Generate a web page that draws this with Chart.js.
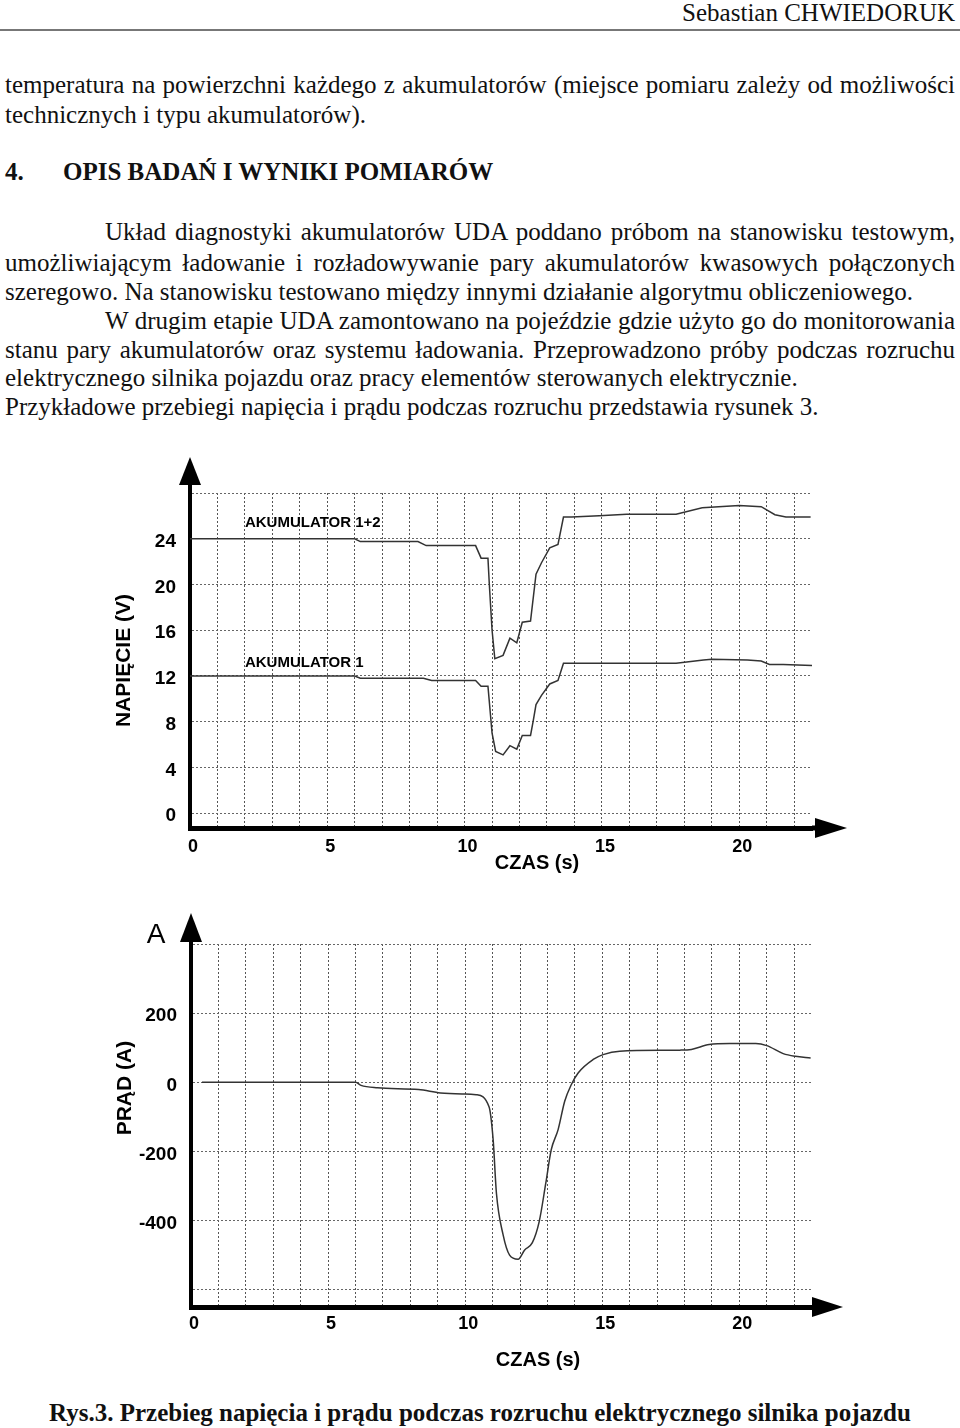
<!DOCTYPE html>
<html>
<head>
<meta charset="utf-8">
<script src="https://cdn.jsdelivr.net/npm/chart.js@4.4.1/dist/chart.umd.min.js"></script>
<style>
  html, body { margin: 0; padding: 0; background: #fff; }
  body { width: 960px; height: 1428px; position: relative; overflow: hidden;
         font-family: "Liberation Serif", "Times New Roman", serif; color: #111; }
  .ln { position: absolute; left: 5px; width: 950px; font-size: 25px; line-height: 29px; height: 29px; white-space: nowrap; }
  .just { text-align: justify; text-align-last: justify; white-space: normal; }
  .ind { left: 105px; width: 850px; }
  .b { font-weight: bold; }
  #rule { position: absolute; left: 0; top: 29px; width: 960px; height: 2px; background: #777; }
  canvas { position: absolute; }
</style>
</head>
<body>
<div class="ln" style="top:-2px;text-align:right;">Sebastian CHWIEDORUK</div>
<div id="rule"></div>
<div class="ln just" style="top:70px;">temperatura na powierzchni każdego z akumulatorów (miejsce pomiaru zależy od możliwości</div>
<div class="ln" style="top:100px;">technicznych i typu akumulatorów).</div>
<div class="ln b" style="top:157px;">4.</div>
<div class="ln b" style="top:157px;left:63px;">OPIS BADAŃ I WYNIKI POMIARÓW</div>
<div class="ln just ind" style="top:217px;">Układ diagnostyki akumulatorów UDA poddano próbom na stanowisku testowym,</div>
<div class="ln just" style="top:248px;">umożliwiającym ładowanie i rozładowywanie pary akumulatorów kwasowych połączonych</div>
<div class="ln" style="top:277px;">szeregowo. Na stanowisku testowano między innymi działanie algorytmu obliczeniowego.</div>
<div class="ln just ind" style="top:306px;">W drugim etapie UDA zamontowano na pojeździe gdzie użyto go do monitorowania</div>
<div class="ln just" style="top:335px;">stanu pary akumulatorów oraz systemu ładowania. Przeprowadzono próby podczas rozruchu</div>
<div class="ln" style="top:363px;">elektrycznego silnika pojazdu oraz pracy elementów sterowanych elektrycznie.</div>
<div class="ln" style="top:392px;">Przykładowe przebiegi napięcia i prądu podczas rozruchu przedstawia rysunek 3.</div>

<canvas id="voltChart" width="790" height="440" style="left:90px;top:440px;"></canvas>
<canvas id="currChart" width="790" height="470" style="left:90px;top:900px;"></canvas>

<div class="ln b" style="top:1398px;left:0;width:960px;text-align:center;">Rys.3. Przebieg napięcia i prądu podczas rozruchu elektrycznego silnika pojazdu</div>

<script>
// czas (s) i napiecie (V) - akumulator 1+2
const tPair = [0, 6.0, 6.2, 8.3, 8.6, 10.4, 10.6, 10.85, 10.9, 11.0, 11.1, 11.4, 11.65, 11.9, 12.1, 12.4, 12.6, 12.8, 13.1, 13.4, 13.6, 13.9, 14.9, 15.9, 17.7, 18.65, 20.0, 20.8, 21.3, 21.7, 22.6];
const vPair = [24.0, 24.0, 23.75, 23.75, 23.4, 23.4, 22.3, 22.3, 20.0, 16.0, 13.5, 13.8, 15.3, 14.9, 16.7, 16.8, 20.9, 21.9, 23.2, 23.5, 25.9, 25.9, 26.0, 26.15, 26.15, 26.7, 26.9, 26.8, 26.1, 25.9, 25.9];

// akumulator 1
const tOne = [0, 6.0, 6.2, 8.5, 8.8, 10.4, 10.6, 10.85, 11.0, 11.13, 11.4, 11.65, 11.9, 12.1, 12.4, 12.5, 12.6, 12.8, 13.1, 13.4, 13.6, 14.9, 17.7, 18.7, 19.0, 20.3, 20.8, 21.1, 21.6, 22.7];
const vOne = [12.0, 12.0, 11.8, 11.8, 11.6, 11.6, 11.1, 11.1, 7.0, 5.4, 5.1, 5.9, 5.6, 6.8, 6.8, 8.1, 9.5, 10.3, 11.3, 11.6, 13.1, 13.1, 13.1, 13.4, 13.45, 13.4, 13.3, 13.0, 13.0, 12.9];

// prad (A)
const tCurr = [0.4, 6.0, 6.2, 6.8, 8.3, 9.1, 10.0, 10.4, 10.87, 11.02, 11.14, 11.38, 11.62, 11.93, 12.17, 12.45, 12.7, 12.94, 13.14, 13.39, 13.63, 13.87, 14.12, 14.67, 15.03, 15.64, 17.83, 18.25, 18.9, 19.65, 20.6, 21.0, 21.6, 22.04, 22.6];
const iCurr = [0, 0, -9, -16, -21, -31, -34, -36, -71, -166, -321, -440, -500, -512, -485, -464, -403, -292, -195, -137, -55, -7, 27, 66, 80, 90, 93, 95, 109, 112, 112, 106, 83, 75, 70];

// osie
const secGrid = [0, 1, 2, 3, 4, 5, 6, 7, 8, 9, 10, 11, 12, 13, 14, 15, 16, 17, 18, 19, 20, 21, 22];
const secLabels = [0, 5, 10, 15, 20];
const voltGrid = [0, 4, 8, 12, 16, 20, 24, 28];
const voltLabels = [0, 4, 8, 12, 16, 20, 24];
const currGrid = [-600, -400, -200, 0, 200, 400];
const currLabels = [-400, -200, 0, 200];

const FONT = '"Liberation Sans", Arial, sans-serif';

function pts(xs, ys) {
  return xs.map((x, i) => ({ x: x, y: ys[i] }));
}

// strzalki osi, tytuly osi i opisy
const decor = {
  id: 'decor',
  afterDraw(chart, args, o) {
    const { ctx, chartArea: a } = chart;
    ctx.save();
    ctx.fillStyle = '#000';
    ctx.strokeStyle = '#000';

    // os Y - przedluzenie i grot
    ctx.lineWidth = 4;
    ctx.beginPath();
    ctx.moveTo(a.left, a.top);
    ctx.lineTo(a.left, a.top - o.yArrow[0]);
    ctx.stroke();
    ctx.beginPath();
    ctx.moveTo(a.left, a.top - o.yArrow[1]);
    ctx.lineTo(a.left - 11, a.top - o.yArrow[0]);
    ctx.lineTo(a.left + 11, a.top - o.yArrow[0]);
    ctx.closePath();
    ctx.fill();

    // os X - przedluzenie i grot
    ctx.lineWidth = 5;
    ctx.beginPath();
    ctx.moveTo(a.right, a.bottom);
    ctx.lineTo(a.right + o.xArrow[0], a.bottom);
    ctx.stroke();
    ctx.beginPath();
    ctx.moveTo(a.right + o.xArrow[1], a.bottom);
    ctx.lineTo(a.right + o.xArrow[0], a.bottom - 10);
    ctx.lineTo(a.right + o.xArrow[0], a.bottom + 10);
    ctx.closePath();
    ctx.fill();

    // tytul osi Y
    ctx.font = 'bold 21px ' + FONT;
    ctx.textAlign = 'center';
    ctx.textBaseline = 'middle';
    ctx.save();
    ctx.translate(a.left - 66, a.top + o.yTitlePos * (a.bottom - a.top));
    ctx.rotate(-Math.PI / 2);
    ctx.fillText(o.yTitle, 0, 0);
    ctx.restore();

    // tytul osi X
    ctx.font = 'bold 20px ' + FONT;
    ctx.fillText('CZAS (s)', a.left + 347, a.bottom + o.xTitleDy);

    // opisy przebiegow
    const xs = chart.scales.x, ys = chart.scales.y;
    ctx.font = 'bold 15px ' + FONT;
    ctx.textAlign = 'left';
    (o.notes || []).forEach(n => {
      ctx.fillText(n.text, xs.getPixelForValue(n.t), ys.getPixelForValue(n.v));
    });

    if (o.unit) {
      ctx.font = '28px ' + FONT;
      ctx.textAlign = 'center';
      ctx.fillText(o.unit, a.left - 35, a.top - 9);
    }
    ctx.restore();
  }
};

function makeChart(id, datasets, y, opts) {
  return new Chart(document.getElementById(id), {
    type: 'line',
    data: { datasets: datasets },
    options: {
      responsive: false,
      animation: false,
      layout: { padding: { top: opts.padTop, right: 68, bottom: 0, left: 0 } },
      elements: {
        point: { radius: 0 },
        line: { borderWidth: 1.5, borderColor: '#333', fill: false }
      },
      plugins: {
        legend: { display: false },
        tooltip: { enabled: false },
        decor: opts.decor
      },
      scales: {
        x: {
          type: 'linear',
          min: 0,
          max: 22.65,
          afterBuildTicks: s => { s.ticks = secGrid.map(v => ({ value: v })); },
          afterFit: s => { s.height = opts.xHeight; },
          ticks: {
            autoSkip: false,
            maxRotation: 0,
            padding: opts.xTickPad,
            labelOffset: 3,
            color: '#000',
            font: { family: FONT, size: 18, weight: 'bold' },
            callback: v => secLabels.includes(v) ? String(v) : ''
          },
          grid: { color: '#555', lineWidth: 1, drawTicks: false },
          border: { color: '#000', width: 5, dash: [2, 2] }
        },
        y: {
          min: y.min,
          max: y.max,
          afterBuildTicks: s => { s.ticks = y.grid.map(v => ({ value: v })); },
          afterFit: s => { s.width = opts.yWidth; },
          ticks: {
            autoSkip: false,
            padding: 14,
            labelOffset: 3,
            color: '#000',
            font: { family: FONT, size: 19, weight: 'bold' },
            callback: v => y.labels.includes(v) ? String(v) : ''
          },
          grid: { color: '#666', lineWidth: 1, drawTicks: false },
          border: { color: '#000', width: 4, dash: [2, 2] }
        }
      }
    },
    plugins: [decor]
  });
}

makeChart('voltChart', [
  { label: 'AKUMULATOR 1+2', data: pts(tPair, vPair) },
  { label: 'AKUMULATOR 1', data: pts(tOne, vOne) }
], { min: -1.3, max: 28, grid: voltGrid, labels: voltLabels }, {
  padTop: 53, xHeight: 52, yWidth: 100, xTickPad: 8,
  decor: {
    yArrow: [8, 36], xArrow: [3, 35],
    yTitle: 'NAPIĘCIE (V)', yTitlePos: 0.5, xTitleDy: 35,
    notes: [
      { text: 'AKUMULATOR 1+2', t: 2.0, v: 25.4 },
      { text: 'AKUMULATOR 1', t: 2.0, v: 13.1 }
    ]
  }
});

makeChart('currChart', [
  { label: 'PRĄD', data: pts(tCurr, iCurr), cubicInterpolationMode: 'monotone' }
], { min: -650, max: 400, grid: currGrid, labels: currLabels }, {
  padTop: 44, xHeight: 63, yWidth: 101, xTickPad: 6,
  decor: {
    yArrow: [2, 31], xArrow: [0, 31],
    yTitle: 'PRĄD (A)', yTitlePos: 0.397, xTitleDy: 53,
    unit: 'A'
  }
});
</script>
</body>
</html>
